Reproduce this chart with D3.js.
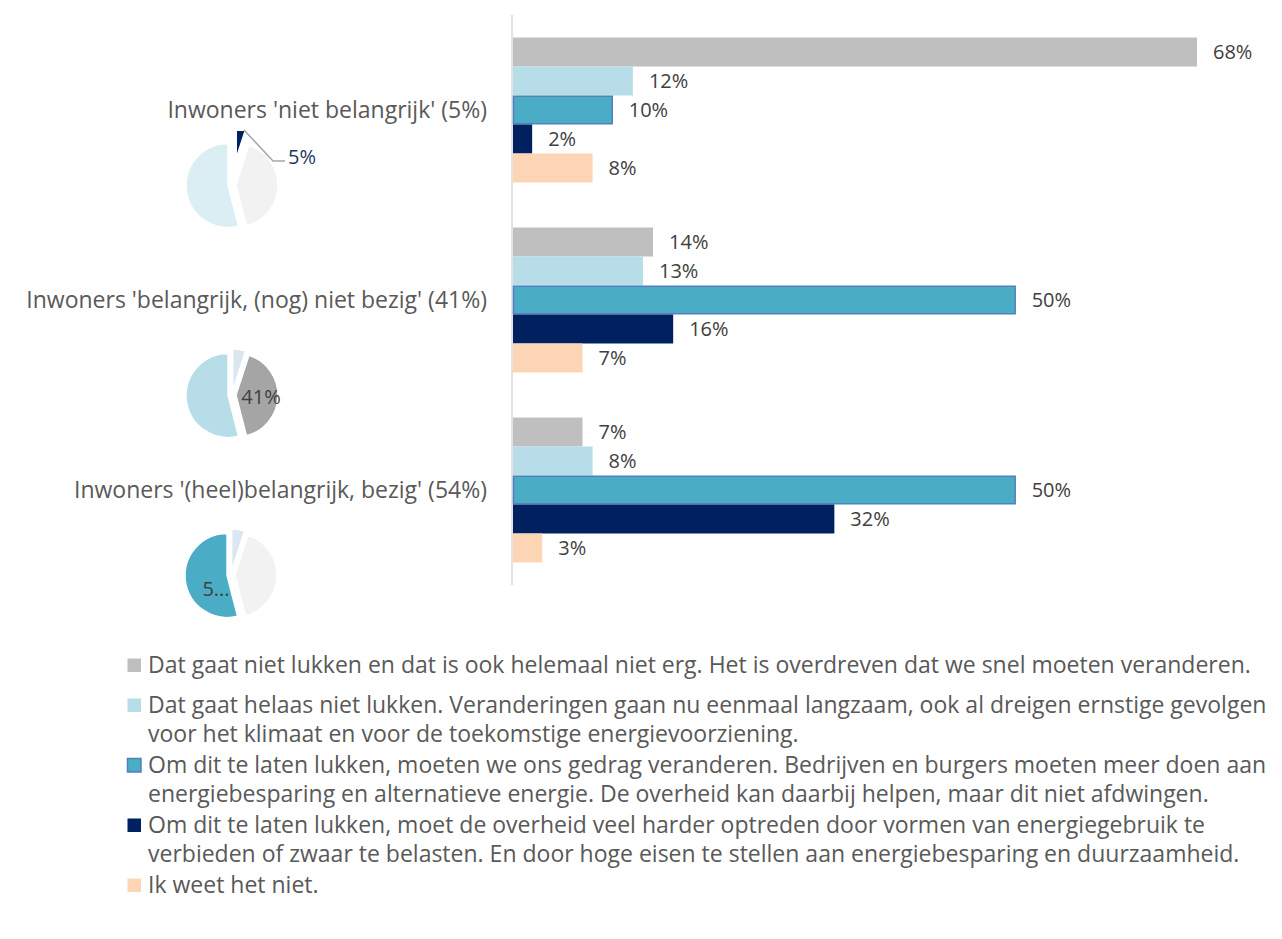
<!DOCTYPE html>
<html>
<head>
<meta charset="utf-8">
<script src="https://cdn.jsdelivr.net/npm/d3@7"></script>
<style>
  body { margin: 0; background: #fff; }
  text { font-family: "Open Sans", "Noto Sans", sans-serif; }
</style>
</head>
<body>
<div id="chart"></div>
<script>
// Data
const groups = [
    "Inwoners 'niet belangrijk' (5%)",
    "Inwoners 'belangrijk, (nog) niet bezig' (41%)",
    "Inwoners '(heel)belangrijk, bezig' (54%)"
];
const seriesNames = ["s1", "s2", "s3", "s4", "s5"];
const series1 = [68, 14, 7];
const series2 = [12, 13, 8];
const series3 = [10, 50, 50];
const series4 = [2, 16, 32];
const series5 = [8, 7, 3];
const groupShares = [5, 41, 54];
const pieLabels = ["5%", "41%", "5..."];
const legendLines = [
    ["Dat gaat niet lukken en dat is ook helemaal niet erg. Het is overdreven dat we snel moeten veranderen."],
    ["Dat gaat helaas niet lukken. Veranderingen gaan nu eenmaal langzaam, ook al dreigen ernstige gevolgen",
     "voor het klimaat en voor de toekomstige energievoorziening."],
    ["Om dit te laten lukken, moeten we ons gedrag veranderen. Bedrijven en burgers moeten meer doen aan",
     "energiebesparing en alternatieve energie. De overheid kan daarbij helpen, maar dit niet afdwingen."],
    ["Om dit te laten lukken, moet de overheid veel harder optreden door vormen van energiegebruik te",
     "verbieden of zwaar te belasten. En door hoge eisen te stellen aan energiebesparing en duurzaamheid."],
    ["Ik weet het niet."]
];

const allSeries = [series1, series2, series3, series4, series5];
const colors = ["#bfbfbf", "#b7dee8", "#4bacc6", "#002060", "#fcd5b5"];
const strokes = [null, null, "#4f81bd", null, null];

document.addEventListener("DOMContentLoaded", () => {
    const W = 1282, H = 939;
    const svg = d3.select("#chart").append("svg")
        .attr("width", W).attr("height", H);

    const x = d3.scaleLinear().domain([0, 68]).range([512, 1197]);
    const y0 = d3.scaleBand().domain(d3.range(groups.length)).range([15, 585]).paddingInner(0.237).paddingOuter(0.1185);
    const y1 = d3.scaleBand().domain(seriesNames).range([0, y0.bandwidth()]);

    // axis line
    svg.append("line")
        .attr("x1", 512).attr("x2", 512).attr("y1", 15).attr("y2", 585)
        .attr("stroke", "#d9d9d9").attr("stroke-width", 1.5);

    groups.forEach((g, gi) => {
        const gy = y0(gi);
        seriesNames.forEach((s, si) => {
            const v = allSeries[si][gi];
            const r = svg.append("rect")
                .attr("x", x(0) + 1)
                .attr("y", gy + y1(s))
                .attr("width", x(v) - x(0) - 1)
                .attr("height", y1.bandwidth())
                .attr("fill", colors[si]);
            if (strokes[si]) {
                r.attr("stroke", strokes[si]).attr("stroke-width", 1.5)
                 .attr("x", x(0) + 1.5).attr("y", gy + y1(s) + 0.75)
                 .attr("height", y1.bandwidth() - 1.5).attr("width", x(v) - x(0) - 2);
            }
            svg.append("text")
                .attr("x", x(v) + 16)
                .attr("y", gy + y1(s) + y1.bandwidth() / 2)
                .attr("dy", "0.35em")
                .attr("font-size", 20)
                .attr("fill", "#404040")
                .text(v + "%");
        });

        svg.append("text")
            .attr("x", 487)
            .attr("y", gy + y0.bandwidth() / 2)
            .attr("dy", "0.35em")
            .attr("text-anchor", "end")
            .attr("font-size", 23)
            .attr("fill", "#595959")
            .text(g);
    });

    // Pies
    const pieColors = [
        ["#002060", "#f2f2f2", "#daeef3"],
        ["#dce6f2", "#a5a5a5", "#b7dee8"],
        ["#dce6f2", "#f2f2f2", "#4bacc6"]
    ];
    const centers = [[232, 185], [232, 395], [231, 575]];
    const R = 42;
    const pie = d3.pie().sort(null);
    const arc = d3.arc().innerRadius(0).outerRadius(R);
    const defs = svg.append("defs");
    defs.append("clipPath").attr("id", "clip0")
        .append("rect").attr("x", 150).attr("y", 131).attr("width", 200).attr("height", 120);

    pieColors.forEach((pc, pi) => {
        const [cx, cy] = centers[pi];
        const wrap = pi === 0 ? svg.append("g").attr("clip-path", "url(#clip0)") : svg.append("g");
        pie(groupShares).forEach((a, ai) => {
            const mid = (a.startAngle + a.endAngle) / 2;
            const off = (pi === 0 && ai === 0) ? 27 : 4;
            const dx = Math.sin(mid) * off, dy = -Math.cos(mid) * off;
            wrap.append("path")
                .attr("transform", `translate(${cx + dx},${cy + dy})`)
                .attr("d", arc(a))
                .attr("fill", pc[ai])
                .attr("stroke", "#fff").attr("stroke-width", 1.5);
        });
    });

    // pie labels
    svg.append("polyline")
        .attr("points", "244,130 273,161 285,161")
        .attr("fill", "none").attr("stroke", "#a6a6a6").attr("stroke-width", 1.5);
    svg.append("text").attr("x", 288).attr("y", 157).attr("dy", "0.35em")
        .attr("font-size", 20).attr("fill", "#1f3864").text(pieLabels[0]);
    svg.append("text").attr("x", 261).attr("y", 397).attr("dy", "0.35em")
        .attr("text-anchor", "middle")
        .attr("font-size", 20).attr("fill", "#404040").text(pieLabels[1]);
    svg.append("text").attr("x", 216).attr("y", 589).attr("dy", "0.35em")
        .attr("text-anchor", "middle")
        .attr("font-size", 20).attr("fill", "#404040").text(pieLabels[2]);

    // Legend
    const legendTop = [665, 705, 765, 825, 885];
    const lineH = 29;
    legendLines.forEach((lines, i) => {
        const ly = legendTop[i];
        svg.append("rect")
            .attr("x", 127.5).attr("y", ly - 6.5)
            .attr("width", 13.5).attr("height", 13.5)
            .attr("fill", colors[i])
            .attr("stroke", strokes[i] || "none").attr("stroke-width", 1.5);
        lines.forEach((t, li) => {
            svg.append("text")
                .attr("x", 148)
                .attr("y", ly + li * lineH)
                .attr("dy", "0.35em")
                .attr("font-size", 23)
                .attr("fill", "#595959")
                .text(t);
        });
    });
});
</script>
</body>
</html>
